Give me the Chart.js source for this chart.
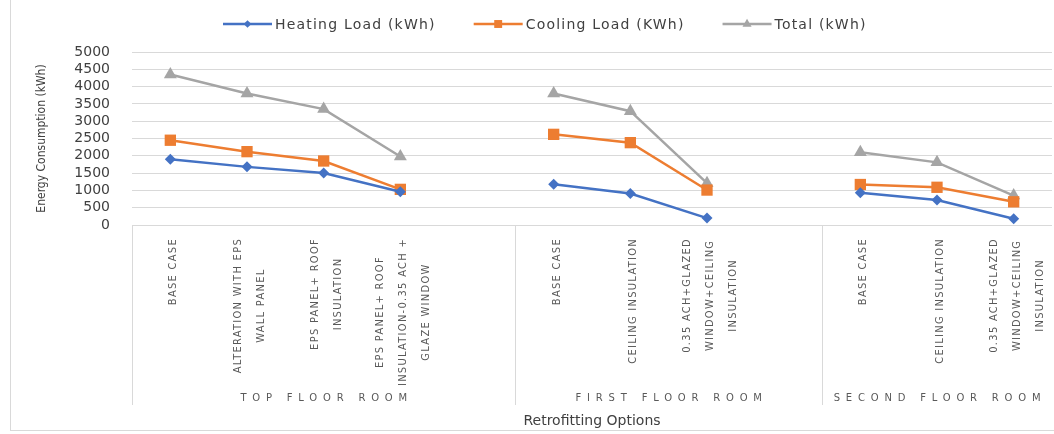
<!DOCTYPE html>
<html>
<head>
<meta charset="utf-8">
<script src="https://cdn.jsdelivr.net/npm/chart.js@4.4.1/dist/chart.umd.min.js"></script>
<style>
  html, body { margin: 0; padding: 0; background: #fff; overflow: hidden; }
  #wrap { width: 1054px; height: 434px; overflow: hidden; }
</style>
</head>
<body>
<div id="wrap"><canvas id="energyChart" width="1060" height="434"></canvas></div>
<script>
// ── Data ──────────────────────────────────────────────────────────────────────
const GROUPS = ["TOP FLOOR ROOM", "FIRST FLOOR ROOM", "SECOND FLOOR ROOM"];

const OPTIONS = [
  [
    ["BASE CASE"],
    ["ALTERATION WITH EPS", "WALL PANEL"],
    ["EPS PANEL+ ROOF", "INSULATION"],
    ["EPS PANEL+ ROOF", "INSULATION-0.35 ACH +", "GLAZE WINDOW"],
  ],
  [
    ["BASE CASE"],
    ["CEILING INSULATION"],
    ["0.35 ACH+GLAZED", "WINDOW+CEILING", "INSULATION"],
  ],
  [
    ["BASE CASE"],
    ["CEILING INSULATION"],
    ["0.35 ACH+GLAZED", "WINDOW+CEILING", "INSULATION"],
  ],
];

const HEATING = [[1900, 1680, 1500, 960], [1180, 910, 200], [930, 720, 180]];
const COOLING = [[2450, 2120, 1850, 1030], [2620, 2380, 1010], [1170, 1090, 670]];
const TOTAL   = [[4350, 3800, 3350, 1980], [3800, 3290, 1210], [2100, 1810, 850]];

const Y_MIN  = 0;
const Y_MAX  = 5000;
const Y_STEP = 500;

const COLORS = {
  heat:  "#4472C4",
  cool:  "#ED7D31",
  total: "#A5A5A5",
  grid:  "#D9D9D9",
  text:  "#595959",
  dark:  "#404040",
};

// ── Flatten groups, a blank slot between groups breaks the lines ─────────────
const labels = [];
const heatData = [], coolData = [], totalData = [];
const groupStart = [];
OPTIONS.forEach((opts, g) => {
  groupStart.push(labels.length);
  opts.forEach((o, i) => {
    labels.push(o);
    heatData.push(HEATING[g][i]);
    coolData.push(COOLING[g][i]);
    totalData.push(TOTAL[g][i]);
  });
  if (g < OPTIONS.length - 1) {
    labels.push("");
    heatData.push(null); coolData.push(null); totalData.push(null);
  }
});

// ── Plugin: option labels, room groups, separators, legend, frame ────────────
const roomAxis = {
  id: "roomAxis",
  beforeDraw(chart) {
    const ctx = chart.ctx;
    ctx.save();
    ctx.strokeStyle = COLORS.grid;
    ctx.lineWidth = 1;
    ctx.strokeRect(10.5, -2, 1100, 432.5);
    ctx.restore();
  },
  afterDraw(chart) {
    const ctx = chart.ctx;
    const xs = chart.scales.x;
    const area = chart.chartArea;
    const sepBottom = 405;

    ctx.save();
    // option labels, rotated, lines centred on the tick
    ctx.fillStyle = COLORS.text;
    ctx.font = '11px "DejaVu Sans Condensed"';
    ctx.letterSpacing = "1.3px";
    ctx.textAlign = "center";
    ctx.textBaseline = "middle";
    chart.data.labels.forEach((lab, i) => {
      const lines = Array.isArray(lab) ? lab : [lab];
      if (!lines[0]) return;
      const px = xs.getPixelForValue(i) + 3;
      const maxW = Math.max(...lines.map((l) => ctx.measureText(l).width));
      const cy = area.bottom + 13 + maxW / 2;
      lines.forEach((l, j) => {
        ctx.save();
        ctx.translate(px + (j - (lines.length - 1) / 2) * 23, cy);
        ctx.rotate(-Math.PI / 2);
        ctx.fillText(l, 0, 0);
        ctx.restore();
      });
    });

    // group separators and room names
    const half = (xs.getPixelForValue(1) - xs.getPixelForValue(0)) / 2;
    const bounds = groupStart.map((s) => xs.getPixelForValue(s) - half);
    bounds.push(area.right);
    ctx.strokeStyle = COLORS.grid;
    ctx.lineWidth = 1;
    bounds.slice(0, -1).forEach((b) => {
      ctx.beginPath();
      ctx.moveTo(Math.round(b) + 0.5, area.bottom);
      ctx.lineTo(Math.round(b) + 0.5, sepBottom);
      ctx.stroke();
    });
    ctx.font = '10px "DejaVu Sans"';
    ctx.letterSpacing = "5.8px";
    GROUPS.forEach((name, g) => {
      ctx.fillText(name, (bounds[g] + bounds[g + 1]) / 2 + 3, 398);
    });

    // legend: line with marker, then text
    ctx.font = '14px "DejaVu Sans"';
    ctx.letterSpacing = "1.2px";
    ctx.textAlign = "left";
    let x = 223;
    const ly = 24;
    chart.data.datasets.forEach((ds) => {
      ctx.strokeStyle = ds.borderColor;
      ctx.lineWidth = 2.5;
      ctx.beginPath();
      ctx.moveTo(x, ly);
      ctx.lineTo(x + 49, ly);
      ctx.stroke();
      ctx.fillStyle = ds.backgroundColor;
      Chart.helpers.drawPoint(ctx, {
        pointStyle: ds.pointStyle, radius: ds.pointRadius * 0.7, rotation: 0, borderWidth: 0,
      }, x + 24.5, ly);
      ctx.fillStyle = COLORS.dark;
      ctx.fillText(ds.label, x + 52, ly + 1);
      x += 52 + ctx.measureText(ds.label).width + 38;
    });
    ctx.restore();
  },
};

function series(label, data, color, style, radius) {
  return {
    label,
    data,
    borderColor: color,
    backgroundColor: color,
    borderWidth: 2.5,
    pointStyle: style,
    pointRadius: radius,
    pointBorderWidth: 0,
    pointHoverRadius: radius,
    spanGaps: false,
    tension: 0,
  };
}

new Chart(document.getElementById("energyChart").getContext("2d"), {
  type: "line",
  data: {
    labels,
    datasets: [
      series("Heating Load (kWh)", heatData, COLORS.heat, "rectRot", 5.5),
      series("Cooling Load (KWh)", coolData, COLORS.cool, "rect", 8),
      series("Total (kWh)", totalData, COLORS.total, "triangle", 7.5),
    ],
  },
  options: {
    responsive: false,
    animation: false,
    devicePixelRatio: 1,
    layout: { padding: { top: 52, left: 35, right: 4, bottom: 4 } },
    plugins: {
      legend: { display: false },
      tooltip: { enabled: false },
    },
    scales: {
      x: {
        offset: true,
        grid: { display: false },
        border: { display: false },
        ticks: { display: false },
        title: {
          display: true,
          text: "Retrofitting Options",
          color: COLORS.dark,
          font: { family: "DejaVu Sans", size: 14 },
          padding: { top: 0, bottom: 0 },
        },
        afterFit: (s) => { s.height = 205; },
      },
      y: {
        min: Y_MIN,
        max: Y_MAX,
        grid: { color: COLORS.grid, drawTicks: false },
        border: { display: false },
        ticks: {
          stepSize: Y_STEP,
          autoSkip: false,
          padding: 22,
          color: COLORS.dark,
          font: { family: "DejaVu Sans", size: 14 },
          callback: (v) => String(v),
        },
        title: {
          display: true,
          text: "Energy Consumption (kWh)",
          color: COLORS.dark,
          font: { family: "DejaVu Sans Condensed", size: 12 },
          padding: { top: 0, bottom: 0 },
        },
        afterFit: (s) => { s.width = 97; },
      },
    },
  },
  plugins: [roomAxis],
});
</script>
</body>
</html>
